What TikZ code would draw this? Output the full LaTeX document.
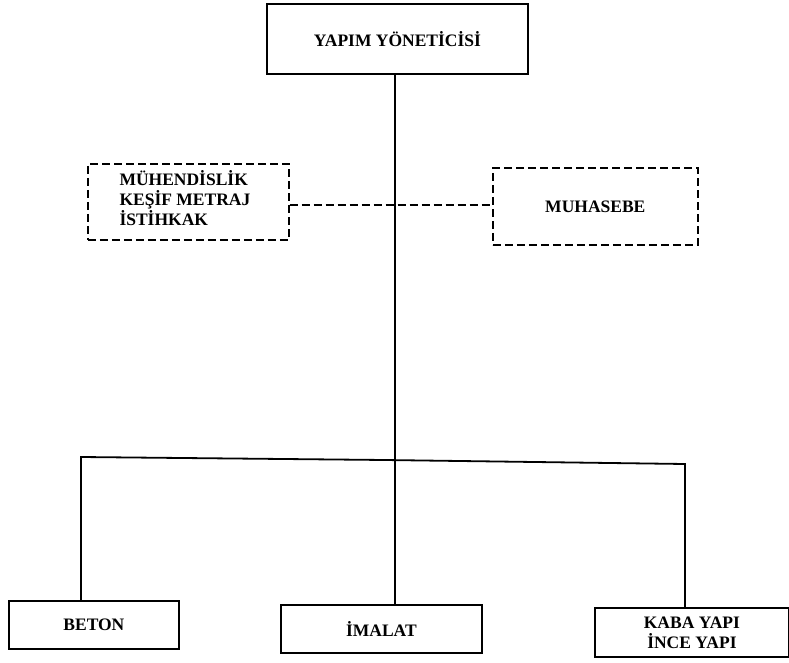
\documentclass[tikz,border=0pt]{standalone}
\usepackage{fontspec}
\setmainfont{Liberation Serif}
\begin{document}
\begin{tikzpicture}[x=1pt,y=-1pt,
  lbl/.style={font=\bfseries\fontsize{17.5}{20}\selectfont, align=center},
  solidbox/.style={draw, line width=1.8pt, inner sep=0pt},
  dashbox/.style={draw, line width=1.6pt, dash pattern=on 8pt off 4pt, inner sep=0pt},
  link/.style={line width=1.8pt},
  dlink/.style={line width=1.1pt, dash pattern=on 8pt off 4pt}]
\useasboundingbox (0,0) rectangle (789,663);

% head office
\node[solidbox, minimum width=261, minimum height=70, anchor=north west] (ym) at (266,3) {};
\node[lbl] at (ym.center) {YAPIM YÖNETİCİSİ};

% staff units
\node[dashbox, minimum width=201, minimum height=76, anchor=north west] (muh) at (87,163) {};
\node[lbl, align=left, anchor=west] at (116,198) {MÜHENDİSLİK\\KEŞİF METRAJ\\İSTİHKAK};
\node[dashbox, minimum width=205, minimum height=77, anchor=north west] (mhs) at (492,167) {};
\node[lbl] at (mhs.center) {MUHASEBE};

% line units
\node[solidbox, minimum width=170, minimum height=48, anchor=north west] (bet) at (8,600) {};
\node[lbl] at (bet.center) {BETON};
\node[solidbox, minimum width=201, minimum height=48, anchor=north west] (ima) at (280,604) {};
\node[lbl] at (ima.center) {İMALAT};
\node[solidbox, minimum width=194, minimum height=49, anchor=north west] (kab) at (594,607) {};
\node[lbl] at (kab.center) {KABA YAPI\\İNCE YAPI};

% connectors
\coordinate (bl) at (81,457);
\coordinate (bm) at (385,460);
\coordinate (br) at (685,464);
\coordinate (staff) at (0,205);
\draw[link] (ym.south -| 395,0) -- (ima.north -| 395,0);
\draw[link] (bet.north -| bl) -- (bl) -- (bm) -- (br) -- (kab.north -| br);
\draw[dlink] (muh.east |- staff) -- (mhs.west |- staff);
\end{tikzpicture}
\end{document}
